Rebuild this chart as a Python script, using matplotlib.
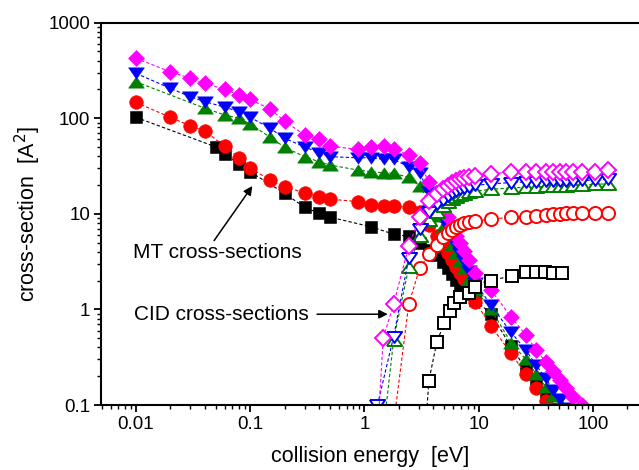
import matplotlib
matplotlib.use("Agg")
import matplotlib.pyplot as plt
from matplotlib.ticker import LogLocator, NullFormatter, FixedLocator, FixedFormatter

plt.rcParams['font.family'] = ['Liberation Sans', 'DejaVu Sans']

# ---- MT (momentum transfer) cross-sections, filled symbols ----
e_mt_black = [0.01, 0.05, 0.06, 0.08, 0.1, 0.2, 0.3, 0.4, 0.5, 1.15, 1.8, 2.44, 3.04,
              3.66, 4.3, 4.85, 5.36, 5.85, 6.34, 6.92, 7.5, 8.28, 9.34, 12.8, 19.1,
              25.8, 31.9, 38.5, 44.6]
mt_black = [102, 50, 42, 33, 27.5, 16.3, 11.7, 10.1, 9.2, 7.3, 6.1, 5.8, 4.9,
            4.2, 3.7, 3.1, 2.7, 2.35, 2.05, 1.85, 1.65, 1.45, 1.25, 0.9, 0.41,
            0.24, 0.168, 0.12, 0.09]

e_mt_red = [0.01, 0.02, 0.03, 0.04, 0.06, 0.08, 0.1, 0.15, 0.2, 0.3, 0.4, 0.5,
            0.88, 1.15, 1.48, 1.8, 2.44, 3.04, 3.66, 4.3, 4.85, 5.36, 5.85, 6.34,
            6.92, 7.5, 8.28, 9.34, 12.8, 19.1, 25.8, 31.9, 38.5]
mt_red = [146, 102, 83, 73, 51, 38.6, 30.3, 22.3, 19.1, 16.6, 15.1, 14.2,
          13.4, 12.3, 12.1, 12.1, 11.7, 10.5, 7.7, 5.8, 4.7, 3.9, 3.3, 2.8,
          2.4, 2.1, 1.6, 1.2, 0.67, 0.35, 0.21, 0.15, 0.11]

e_mt_green = [0.01, 0.04, 0.06, 0.08, 0.1, 0.15, 0.2, 0.3, 0.4, 0.5,
              0.88, 1.15, 1.48, 1.8, 2.44, 3.04, 3.66, 4.3, 4.85, 5.36, 5.85,
              6.34, 6.92, 7.5, 8.28, 9.34, 12.8, 19.1, 25.8, 31.9, 38.5, 44.6, 51]
mt_green = [240, 127, 108, 99.5, 86.8, 63, 49.5, 39.5, 35, 32.3,
            28.6, 27.5, 26.8, 26.5, 24, 19.5, 13.5, 9.5, 7.3, 5.8, 4.7,
            3.9, 3.2, 2.7, 2.1, 1.6, 1.0, 0.45, 0.3, 0.21, 0.155, 0.125, 0.105]

e_mt_blue = [0.01, 0.02, 0.03, 0.04, 0.06, 0.08, 0.1, 0.15, 0.2, 0.3, 0.4, 0.5,
             0.88, 1.15, 1.48, 1.8, 2.44, 3.04, 3.66, 4.3, 4.85, 5.36, 5.85, 6.34,
             6.92, 7.5, 8.28, 9.34, 12.8, 19.1, 25.8, 31.9, 38.5, 44.6, 51, 58.3]
mt_blue = [294, 205, 167, 149, 130, 117, 102, 78, 61.5, 50, 43.5, 39.5,
           38.5, 38.5, 37, 37, 31, 26.4, 17, 12, 9, 7.2, 5.8, 4.7,
           3.9, 3.2, 2.5, 1.9, 1.1, 0.58, 0.375, 0.26, 0.19, 0.145, 0.115, 0.092]

e_mt_magenta = [0.01, 0.02, 0.03, 0.04, 0.06, 0.08, 0.1, 0.15, 0.2, 0.3, 0.4, 0.5,
                0.88, 1.15, 1.48, 1.8, 2.44, 3.04, 3.66, 4.3, 4.85, 5.36, 5.85, 6.34,
                6.92, 7.5, 8.28, 9.34, 12.8, 19.1, 25.8, 31.9, 38.5, 44.6, 51, 58.3,
                66.7, 80.4]
mt_magenta = [423, 305, 261, 231, 200, 175, 157, 124, 93, 66.5, 61, 51,
              47, 50, 51, 48, 41, 33.6, 21.6, 15.5, 11.8, 9.3, 7.5, 5.9,
              4.9, 4.1, 3.3, 2.4, 1.59, 0.84, 0.54, 0.375, 0.283, 0.228, 0.182, 0.149,
              0.122, 0.1]

# ---- CID (collision-induced dissociation) cross-sections, open symbols ----
e_cid_black = [3.4, 3.66, 4.3, 5.0, 5.6, 6.1, 6.8, 8.2, 9.3, 12.8, 19.5, 26, 32, 38,
               44.7, 53.8]
cid_black = [0.05, 0.179, 0.458, 0.72, 0.96, 1.16, 1.36, 1.49, 1.72, 2.0, 2.25, 2.44,
             2.47, 2.45, 2.41, 2.41]

e_cid_hi = [2.44, 3.04, 3.66, 4.3, 4.85, 5.36, 5.85, 6.34, 6.92, 7.5, 8.28, 9.34,
            12.8, 19.1, 25.8, 31.9, 38.5, 44.6, 51, 58.3, 66.7, 80.4, 105, 135]

e_cid_red = [1.48] + e_cid_hi
cid_red = [0.01, 1.13, 2.69, 3.76, 4.71, 5.67, 6.24, 6.76, 7.21, 7.62, 7.94, 8.25, 8.45,
           8.8, 9.17, 9.3, 9.46, 9.69, 9.86, 9.93, 10.1, 10.2, 10.2, 10.2, 10.2]

e_cid_green = [1.25, 1.8] + e_cid_hi
cid_green = [0.01, 0.48, 2.75, 5.8, 8.5, 10.5, 12, 13.2, 14.2, 15, 15.7, 16.2, 16.8, 17.3,
             18, 18.6, 18.9, 19.1, 19.3, 19.4, 19.5, 19.7, 19.8, 20, 20.3, 20.6]

e_cid_blue = [1.3, 1.8] + e_cid_hi
cid_blue = [0.1, 0.52, 3.42, 7.0, 10.5, 12.5, 14, 15.5, 16.5, 17.3, 18, 18.6, 19.2, 19.8,
            20.5, 21.2, 21.5, 21.7, 21.8, 22, 22, 22, 22.2, 22.3, 22.5, 23]

e_cid_magenta = [1.2, 1.46, 1.8] + e_cid_hi
cid_magenta = [0.01, 0.50, 1.14, 4.6, 9.2, 13.5, 16, 18, 19.5, 21, 22, 23, 23.8, 24.5, 25,
               26, 27.5, 27.5, 27.5, 27.5, 27.5, 27.5, 27.5, 27.5, 27.5, 27.5, 28.6]

BLACK, RED, GREEN, BLUE, MAGENTA = '#000000', '#ff0000', '#008000', '#0000ff', '#ff00ff'

# flattened triangles (wider than tall)
TRI_UP = [(-1.0, -0.72), (1.0, -0.72), (0.0, 0.72), (-1.0, -0.72)]
TRI_DOWN = [(-1.0, 0.72), (1.0, 0.72), (0.0, -0.72), (-1.0, 0.72)]

fig = plt.figure(figsize=(6.39, 4.70), dpi=100)
ax = fig.add_axes([101.5 / 639, 1 - 405 / 470, 537 / 639, (405 - 22.5) / 470])
ax.set_xscale('log')
ax.set_yscale('log')
ax.set_xlim(0.005, 250)
ax.set_ylim(0.1, 1000)

line_kw = dict(linestyle=(0, (3, 2)), linewidth=0.8)

mt_series = [
    (e_mt_black, mt_black, BLACK, 's', 8.6),
    (e_mt_red, mt_red, RED, 'o', 9.8),
    (e_mt_green, mt_green, GREEN, TRI_UP, 11.3),
    (e_mt_blue, mt_blue, BLUE, TRI_DOWN, 11.3),
    (e_mt_magenta, mt_magenta, MAGENTA, 'D', 8.2),
]
for e, y, c, m, ms in mt_series:
    ax.plot(e, y, color=c, marker=m, markersize=ms, markerfacecolor=c,
            markeredgecolor=c, markeredgewidth=0.4, **line_kw)

cid_series = [
    (e_cid_black, cid_black, BLACK, 's', 8.2),
    (e_cid_red, cid_red, RED, 'o', 9.4),
    (e_cid_green, cid_green, GREEN, TRI_UP, 11.0),
    (e_cid_blue, cid_blue, BLUE, TRI_DOWN, 11.0),
    (e_cid_magenta, cid_magenta, MAGENTA, 'D', 8.0),
]
for e, y, c, m, ms in cid_series:
    ax.plot(e, y, color=c, marker=m, markersize=ms, markerfacecolor='white',
            markeredgecolor=c, markeredgewidth=1.4, **line_kw)

# annotations
ax.annotate('MT cross-sections', xy=(0.1045, 19.5), xytext=(0.0094, 3.9),
            fontsize=15, ha='left', va='center', zorder=5,
            arrowprops=dict(arrowstyle='-|>', color='black', lw=1.1,
                            mutation_scale=13, shrinkA=0, shrinkB=0,
                            relpos=(0.47, 1.0)))
ax.text(0.0096, 0.89, 'CID cross-sections', fontsize=15, ha='left', va='center')
ax.annotate('', xy=(1.6, 0.89), xytext=(0.385, 0.89),
            arrowprops=dict(arrowstyle='-|>', color='black', lw=1.1,
                            mutation_scale=13, shrinkA=0, shrinkB=0))

# axes styling
for side in ('left', 'bottom', 'top'):
    ax.spines[side].set_linewidth(1.5)
ax.spines['right'].set_visible(False)

ax.xaxis.set_major_locator(FixedLocator([0.01, 0.1, 1, 10, 100]))
ax.xaxis.set_major_formatter(FixedFormatter(['0.01', '0.1', '1', '10', '100']))
ax.xaxis.set_minor_locator(LogLocator(base=10, subs=range(2, 10), numticks=20))
ax.xaxis.set_minor_formatter(NullFormatter())
ax.yaxis.set_major_locator(FixedLocator([0.1, 1, 10, 100, 1000]))
ax.yaxis.set_major_formatter(FixedFormatter(['0.1', '1', '10', '100', '1000']))
ax.yaxis.set_minor_locator(LogLocator(base=10, subs=range(2, 10), numticks=20))
ax.yaxis.set_minor_formatter(NullFormatter())

ax.tick_params(which='major', direction='out', length=5, width=1.3,
               labelsize=13.5, pad=3, top=False, right=False)
ax.tick_params(which='minor', direction='out', length=3, width=1.0,
               top=False, right=False)

ax.set_xlabel('collision energy  [eV]', fontsize=15.5, labelpad=9)
ax.set_ylabel('cross-section  [A$^{2}$]', fontsize=15.5, labelpad=4)

fig.savefig('out.png', dpi=100)
